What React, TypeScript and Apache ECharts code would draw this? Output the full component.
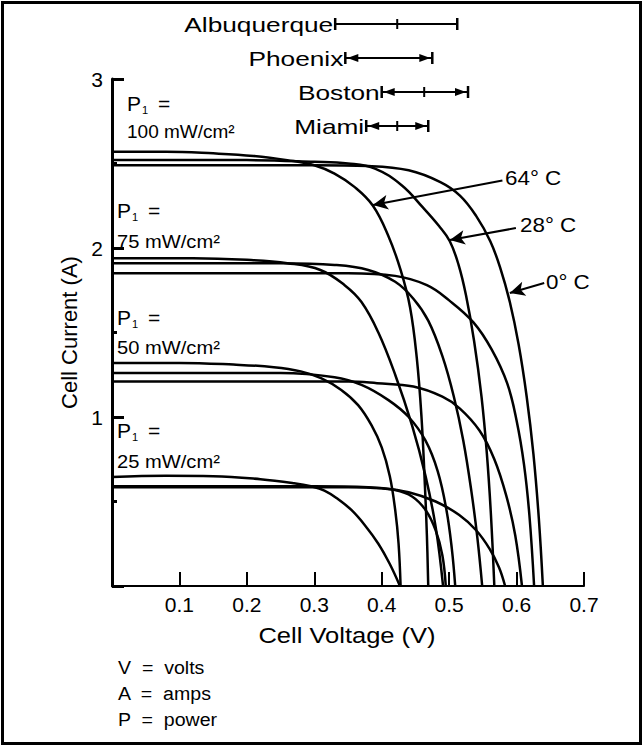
import React, { useEffect, useRef } from "react";
import * as echarts from "echarts";

const FONT = "'Liberation Sans', Arial, Helvetica, sans-serif";

// axes
const xMin = 0;
const xMax = 0.7;
const xStep = 0.1;
const yMin = 0;
const yMax = 3;
const yStep = 1;

// city voltage ranges (V)
const cityNames = ["Albuquerque", "Phoenix", "Boston", "Miami"];
const cityLow = [0.331, 0.346, 0.4, 0.377];
const cityMid = [0.423, NaN, 0.463, 0.423];
const cityHigh = [0.512, 0.475, 0.528, 0.469];
const cityArrows = [0, 1, 1, 1];

// I-V curves [V, A]
const c100_64 = [[0, 2.57], [0.08, 2.57], [0.15, 2.56], [0.21, 2.545], [0.26, 2.52], [0.3, 2.49], [0.33, 2.44], [0.36, 2.36], [0.387, 2.25], [0.41, 2.07], [0.428, 1.87], [0.442, 1.65], [0.452, 1.35], [0.459, 1.0], [0.464, 0.6], [0.467, 0.3], [0.469, 0]];
const c100_28 = [[0, 2.52], [0.2, 2.52], [0.3, 2.51], [0.35, 2.5], [0.39, 2.47], [0.43, 2.37], [0.461, 2.24], [0.485, 2.13], [0.501, 2.04], [0.514, 1.9], [0.525, 1.72], [0.537, 1.45], [0.548, 1.12], [0.556, 0.78], [0.562, 0.42], [0.567, 0]];
const c100_0 = [[0, 2.49], [0.3, 2.49], [0.38, 2.485], [0.44, 2.46], [0.487, 2.39], [0.516, 2.31], [0.54, 2.19], [0.561, 2.04], [0.576, 1.88], [0.59, 1.68], [0.603, 1.43], [0.615, 1.12], [0.625, 0.78], [0.633, 0.4], [0.639, 0]];

const c75_64 = [[0, 1.94], [0.12, 1.94], [0.2, 1.93], [0.26, 1.91], [0.309, 1.87], [0.345, 1.78], [0.37, 1.68], [0.395, 1.5], [0.42, 1.25], [0.445, 0.95], [0.465, 0.65], [0.48, 0.35], [0.491, 0]];
const c75_28 = [[0, 1.91], [0.25, 1.91], [0.33, 1.9], [0.38, 1.87], [0.42, 1.8], [0.447, 1.7], [0.469, 1.57], [0.49, 1.36], [0.507, 1.12], [0.521, 0.86], [0.533, 0.56], [0.542, 0.28], [0.549, 0]];
const c75_0 = [[0, 1.85], [0.35, 1.85], [0.42, 1.835], [0.467, 1.78], [0.5, 1.69], [0.536, 1.56], [0.563, 1.4], [0.586, 1.2], [0.6, 0.98], [0.611, 0.72], [0.619, 0.42], [0.626, 0]];

const c50_64 = [[0, 1.32], [0.1, 1.32], [0.18, 1.31], [0.24, 1.295], [0.28, 1.27], [0.31, 1.23], [0.34, 1.16], [0.365, 1.07], [0.385, 0.95], [0.4, 0.82], [0.412, 0.65], [0.42, 0.45], [0.425, 0.25], [0.428, 0]];
const c50_28 = [[0, 1.26], [0.25, 1.26], [0.33, 1.235], [0.37, 1.19], [0.41, 1.1], [0.44, 1.0], [0.465, 0.86], [0.483, 0.68], [0.496, 0.45], [0.504, 0.22], [0.509, 0]];
const c50_0 = [[0, 1.21], [0.35, 1.21], [0.393, 1.2], [0.447, 1.18], [0.49, 1.12], [0.516, 1.05], [0.545, 0.92], [0.567, 0.75], [0.585, 0.53], [0.598, 0.3], [0.608, 0]];

const c25_64 = [[0, 0.645], [0.08, 0.652], [0.15, 0.65], [0.22, 0.632], [0.27, 0.608], [0.295, 0.59], [0.315, 0.565], [0.335, 0.515], [0.355, 0.45], [0.375, 0.36], [0.395, 0.25], [0.412, 0.13], [0.427, 0]];
const c25_28 = [[0, 0.59], [0.3, 0.59], [0.38, 0.585], [0.42, 0.568], [0.445, 0.53], [0.465, 0.45], [0.48, 0.33], [0.49, 0.18], [0.495, 0]];
const c25_0 = [[0, 0.585], [0.35, 0.585], [0.4, 0.578], [0.44, 0.555], [0.48, 0.5], [0.515, 0.42], [0.54, 0.33], [0.56, 0.22], [0.574, 0.11], [0.583, 0]];

// temperature annotations: label, arrow start [V, A], arrow end [V, A]
const tempLabels = ["64° C", "28° C", "0° C"];
const tempFrom = [[0.579, 2.4], [0.599, 2.118], [0.641, 1.793]];
const tempTo = [[0.387, 2.254], [0.501, 2.047], [0.59, 1.734]];

// texts
const irrLabels = ["100 mW/cm²", "75 mW/cm²", "50 mW/cm²", "25 mW/cm²"];
const notes = ["V  =  volts", "A  =  amps", "P  =  power"];
const xTitle = "Cell Voltage (V)";
const yTitle = "Cell Current (A)";

export default function App() {
  const ref = useRef<HTMLDivElement>(null);
  useEffect(() => {
    if (!ref.current) return;
    const chart = echarts.init(ref.current, null, { renderer: "svg" });
    const curves = [c100_64, c100_28, c100_0, c75_64, c75_28, c75_0, c50_64, c50_28, c50_0, c25_64, c25_28, c25_0];
    const lineSeries: any[] = curves.map((d) => ({
      type: "line",
      xAxisIndex: 0,
      yAxisIndex: 0,
      data: d,
      symbol: "none",
      showSymbol: false,
      smooth: 0.4,
      lineStyle: { color: "#000", width: 2.5 },
      silent: true,
      z: 3,
    }));
    lineSeries[0].markLine = {
      silent: true,
      symbol: ["none", "arrow"],
      symbolSize: [11, 15],
      lineStyle: { color: "#000", width: 2, type: "solid" },
      label: { show: false },
      data: tempFrom.map((f, i) => [{ coord: f }, { coord: tempTo[i] }]),
    };

    const cityData = cityNames.map((n, i) => [cityLow[i], cityMid[i], cityHigh[i], cityArrows[i], i]);
    const citySeries = {
      type: "custom",
      xAxisIndex: 1,
      yAxisIndex: 1,
      silent: true,
      data: cityData,
      encode: { x: [0, 2], y: 4 },
      renderItem: (params: any, api: any) => {
        const idx = api.value(4);
        const lo = api.coord([api.value(0), idx]);
        const hi = api.coord([api.value(2), idx]);
        const midV = api.value(1);
        const y = lo[1];
        const st = { stroke: "#000", lineWidth: 2 };
        const children: any[] = [
          {
            type: "text",
            x: lo[0] - 2,
            y: y,
            scaleX: 1.25,
            style: { text: cityNames[idx], font: `21px ${FONT}`, fill: "#000", align: "right", verticalAlign: "middle" },
          },
          { type: "line", shape: { x1: lo[0], y1: y, x2: hi[0], y2: y }, style: st },
          { type: "line", shape: { x1: lo[0], y1: y - 6, x2: lo[0], y2: y + 6 }, style: { stroke: "#000", lineWidth: 2.5 } },
          { type: "line", shape: { x1: hi[0], y1: y - 6, x2: hi[0], y2: y + 6 }, style: { stroke: "#000", lineWidth: 2.5 } },
        ];
        if (!isNaN(midV)) {
          const m = api.coord([midV, idx]);
          children.push({ type: "line", shape: { x1: m[0], y1: y - 5, x2: m[0], y2: y + 5 }, style: st });
        }
        if (api.value(3)) {
          children.push({ type: "polygon", shape: { points: [[lo[0] + 2, y], [lo[0] + 13, y - 4], [lo[0] + 13, y + 4]] }, style: { fill: "#000" } });
          children.push({ type: "polygon", shape: { points: [[hi[0] - 2, y], [hi[0] - 13, y - 4], [hi[0] - 13, y + 4]] }, style: { fill: "#000" } });
        }
        return { type: "group", children };
      },
    };

    const txt = (text: string, x: number, y: number, size: number, sx = 1.0, align = "left") => ({
      type: "text",
      x,
      y,
      scaleX: sx,
      z: 10,
      style: { text, font: `${size}px ${FONT}`, fill: "#000", align, verticalAlign: "middle" },
    });
    const pLabel = (x: number, y: number) => [
      txt("P", x, y, 20, 1.05),
      txt("1", x + 15, y + 6, 11),
      txt("=", x + 31, y, 20, 1.05),
    ];
    const irrPos = [[127, 104, 131], [117, 211, 241], [117, 318, 347], [117, 431, 461]];
    const graphics: any[] = [
      { type: "rect", shape: { x: 2.5, y: 2.5, width: 638, height: 741 }, style: { fill: "none", stroke: "#000", lineWidth: 3 }, z: 20 },
    ];
    irrPos.forEach((p, i) => {
      graphics.push(...pLabel(p[0], p[1]));
      graphics.push(txt(irrLabels[i], p[0], p[2], 19, i === 0 ? 1.0 : 1.06));
    });
    const tempPos = [[505, 178], [520, 225], [546, 282]];
    tempPos.forEach((p, i) => graphics.push(txt(tempLabels[i], p[0], p[1], 20, 1.12)));
    notes.forEach((n, i) => graphics.push(txt(n, 118, 668 + 26 * i, 19, 1.03)));
    // x-axis title (centred under the axis)
    graphics.push({
      type: "text",
      x: 347,
      y: 635,
      scaleX: 1.16,
      z: 10,
      style: { text: xTitle, font: `22px ${FONT}`, fill: "#000", align: "center", verticalAlign: "middle" },
    });

    chart.setOption({
      animation: false,
      backgroundColor: "#fff",
      textStyle: { fontFamily: FONT, color: "#000" },
      grid: [
        { left: 112, right: 60, top: 79, bottom: 161, containLabel: false },
        { left: 112, right: 60, top: 7, height: 136, containLabel: false },
      ],
      xAxis: [
        {
          type: "value",
          gridIndex: 0,
          min: xMin,
          max: xMax,
          interval: xStep,
          axisLine: { show: true, lineStyle: { color: "#000", width: 2 } },
          axisTick: { show: true, inside: true, length: 14, lineStyle: { color: "#000", width: 2 } },
          axisLabel: { showMinLabel: false, margin: 8, fontFamily: FONT, fontSize: 21, color: "#000", formatter: (v: number) => (v === 0 ? "" : v.toFixed(1)) },
          splitLine: { show: false },
        },
        { type: "value", gridIndex: 1, min: xMin, max: xMax, show: false },
      ],
      yAxis: [
        {
          type: "value",
          gridIndex: 0,
          min: yMin,
          max: yMax,
          interval: yStep,
          name: yTitle,
          nameLocation: "middle",
          nameGap: 31,
          nameRotate: 90,
          nameTextStyle: { fontFamily: FONT, fontSize: 22, color: "#000" },
          axisLine: { show: true, lineStyle: { color: "#000", width: 3 } },
          axisTick: { show: true, inside: true, length: 12, lineStyle: { color: "#000", width: 3 } },
          minorTick: { show: true, splitNumber: 2, length: 5, lineStyle: { color: "#000", width: 3 } },
          axisLabel: { showMinLabel: false, margin: 9, fontFamily: FONT, fontSize: 21, color: "#000", formatter: (v: number) => (v === 0 ? "" : String(v)) },
          splitLine: { show: false },
          minorSplitLine: { show: false },
        },
        { type: "category", gridIndex: 1, data: cityNames, inverse: true, show: false },
      ],
      graphic: graphics,
      series: [...lineSeries, citySeries],
    });
    return () => chart.dispose();
  }, []);
  return <div ref={ref} style={{ position: "absolute", left: 0, top: 0, width: 644, height: 747, background: "#fff" }} />;
}
